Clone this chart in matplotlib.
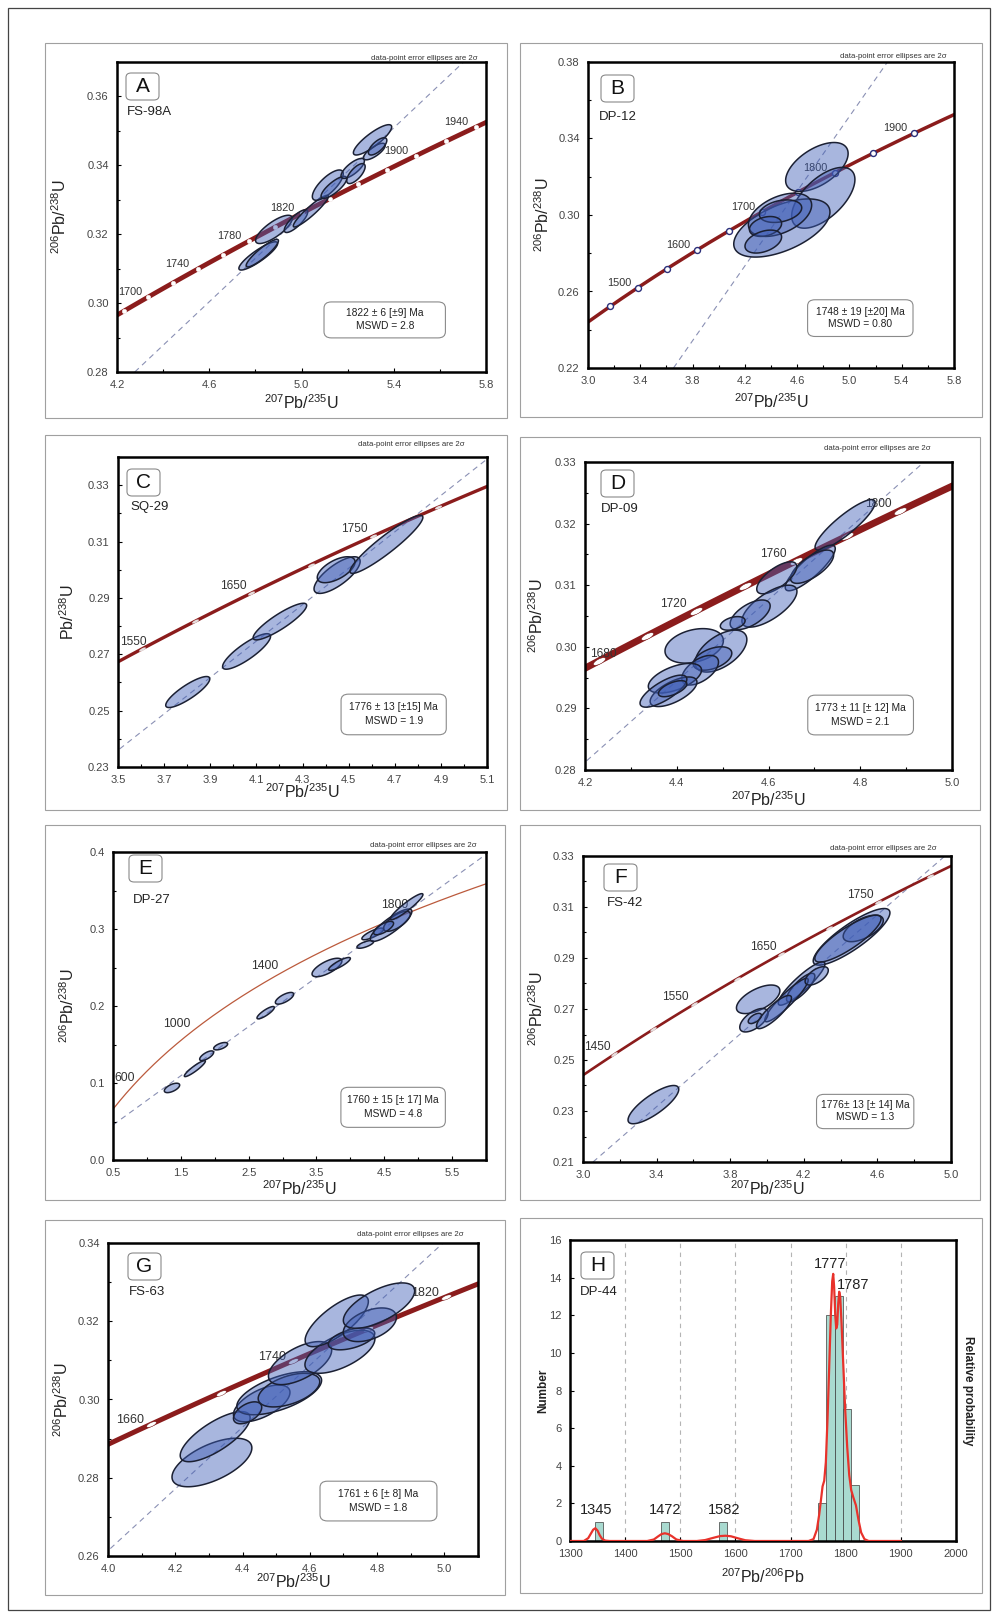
import numpy as np
import matplotlib
matplotlib.use('Agg')
import matplotlib.pyplot as plt
from matplotlib.patches import Polygon, FancyBboxPatch, Rectangle
from matplotlib.markers import MarkerStyle
from matplotlib.transforms import Affine2D

plt.rcParams['font.family'] = ['Liberation Sans', 'DejaVu Sans']
plt.rcParams['mathtext.fontset'] = 'custom'
plt.rcParams['mathtext.rm'] = 'Liberation Sans'
plt.rcParams['mathtext.it'] = 'Liberation Sans:italic'
plt.rcParams['mathtext.bf'] = 'Liberation Sans:bold'

# decay constants (1/yr) used for the concordia curve
L238 = 1.55125e-10
L235 = 9.8485e-10

# error ellipses: (207Pb/235U, 206Pb/238U, half extent x, half extent y, rho)
A_ell = [(4.8125, 0.3137, 0.084, 0.0041, 0.88), (4.83, 0.3145, 0.07, 0.0040, 0.90),
         (4.8805, 0.3214, 0.0796, 0.0041, 0.78), (4.976, 0.3238, 0.0507, 0.0033, 0.80),
         (5.0405, 0.3267, 0.076, 0.0046, 0.93), (5.114, 0.33425, 0.067, 0.0044, 0.75),
         (5.1405, 0.3336, 0.0557, 0.0032, 0.80), (5.222, 0.3391, 0.0507, 0.0029, 0.75),
         (5.236, 0.3376, 0.040, 0.0029, 0.70), (5.316, 0.3440, 0.047, 0.0024, 0.75),
         (5.308, 0.3474, 0.083, 0.0044, 0.85), (5.33, 0.3455, 0.040, 0.0025, 0.70)]
B_ell = [(4.751, 0.3251, 0.239, 0.0128, 0.55), (4.800, 0.3090, 0.242, 0.0159, 0.60),
         (4.483, 0.2932, 0.368, 0.0152, 0.55), (4.469, 0.3001, 0.242, 0.0113, 0.45),
         (4.473, 0.3020, 0.162, 0.0059, 0.30), (4.358, 0.2940, 0.123, 0.0052, 0.30),
         (4.341, 0.2861, 0.140, 0.0060, 0.40)]
C_ell = [(3.8025, 0.2566, 0.0955, 0.0055, 0.85), (4.0575, 0.2710, 0.104, 0.0063, 0.85),
         (4.202, 0.2816, 0.116, 0.0065, 0.88), (4.450, 0.2981, 0.100, 0.0065, 0.75),
         (4.446, 0.3000, 0.082, 0.0046, 0.60), (4.664, 0.3090, 0.158, 0.0103, 0.93)]
D_ell = [(4.767, 0.3198, 0.0655, 0.0041, 0.88), (4.691, 0.3128, 0.0545, 0.0037, 0.85),
         (4.695, 0.3130, 0.047, 0.0027, 0.70), (4.618, 0.3112, 0.0436, 0.0026, 0.70),
         (4.602, 0.3066, 0.060, 0.0034, 0.70), (4.560, 0.3052, 0.0436, 0.0024, 0.60),
         (4.522, 0.3038, 0.027, 0.0011, 0.40), (4.438, 0.30015, 0.0636, 0.0028, 0.30),
         (4.4964, 0.2993, 0.0564, 0.0034, 0.55), (4.478, 0.2981, 0.042, 0.0019, 0.45),
         (4.451, 0.2962, 0.040, 0.0024, 0.55), (4.396, 0.2949, 0.058, 0.0024, 0.55),
         (4.393, 0.2927, 0.051, 0.0024, 0.65), (4.371, 0.2928, 0.051, 0.0026, 0.75),
         (4.391, 0.2932, 0.031, 0.0013, 0.60)]
E_ell = [(1.37, 0.0936, 0.113, 0.0061, 0.60), (1.707, 0.1187, 0.155, 0.0104, 0.92),
         (1.881, 0.1354, 0.103, 0.0063, 0.70), (2.0875, 0.1478, 0.103, 0.0048, 0.60),
         (2.751, 0.1913, 0.128, 0.0080, 0.85), (3.029, 0.2100, 0.135, 0.0076, 0.70),
         (3.655, 0.2500, 0.220, 0.0120, 0.70), (3.840, 0.2546, 0.160, 0.0084, 0.85),
         (4.220, 0.2800, 0.123, 0.0050, 0.70), (4.330, 0.2936, 0.160, 0.0076, 0.80),
         (4.600, 0.3049, 0.307, 0.0210, 0.85), (4.687, 0.3100, 0.197, 0.0130, 0.70),
         (4.830, 0.3290, 0.240, 0.0169, 0.93), (4.490, 0.3012, 0.147, 0.0087, 0.70)]
F_ell = [(3.3826, 0.2325, 0.1378, 0.0075, 0.80), (4.4596, 0.2983, 0.2085, 0.0111, 0.85),
         (4.523, 0.3016, 0.109, 0.0052, 0.60), (4.440, 0.2976, 0.180, 0.0092, 0.85),
         (4.188, 0.2800, 0.127, 0.0085, 0.90), (4.183, 0.2784, 0.077, 0.0056, 0.80),
         (4.106, 0.2735, 0.118, 0.0085, 0.92), (3.952, 0.2738, 0.118, 0.0056, 0.60),
         (3.929, 0.2656, 0.077, 0.0046, 0.60), (4.038, 0.2688, 0.095, 0.0065, 0.85),
         (3.934, 0.2663, 0.036, 0.0020, 0.60), (4.270, 0.2830, 0.063, 0.0036, 0.60)]
G_ell = [(4.309, 0.2839, 0.1187, 0.0062, 0.60), (4.3186, 0.2905, 0.1039, 0.0064, 0.75),
         (4.457, 0.2990, 0.084, 0.0047, 0.60), (4.509, 0.3016, 0.126, 0.0055, 0.60),
         (4.538, 0.3024, 0.0915, 0.0043, 0.50), (4.571, 0.3093, 0.094, 0.0055, 0.60),
         (4.6895, 0.3122, 0.104, 0.0055, 0.60), (4.680, 0.3201, 0.094, 0.0066, 0.75),
         (4.724, 0.3155, 0.069, 0.0028, 0.50), (4.7785, 0.3191, 0.079, 0.0043, 0.45),
         (4.8057, 0.3240, 0.106, 0.0058, 0.65), (4.415, 0.2966, 0.042, 0.0028, 0.50)]

# concordia age ticks (Ma) and labelled ages
A_ticks = [1680, 1700, 1720, 1740, 1760, 1780, 1800, 1820, 1840, 1860, 1880, 1900, 1920, 1940, 1960]
A_labels = [1700, 1740, 1780, 1820, 1900, 1940]
B_ticks = [1450, 1500, 1550, 1600, 1650, 1700, 1750, 1800, 1850, 1900]
B_labels = [1500, 1600, 1700, 1800, 1900]
C_ticks = [1550, 1600, 1650, 1700, 1750, 1800]
C_labels = [1550, 1650, 1750]
D_ticks = [1680, 1700, 1720, 1740, 1760, 1780, 1800]
D_labels = [1680, 1720, 1760, 1800]
E_ticks = []
E_labels = [600, 1000, 1400, 1800]
F_ticks = [1450, 1500, 1550, 1600, 1650, 1700, 1750, 1800]
F_labels = [1450, 1550, 1650, 1750]
G_ticks = [1660, 1700, 1740, 1780, 1820]
G_labels = [1660, 1740, 1820]

# discordia end points (x list, y list)
A_disc = ([4.277, 5.703], [0.280, 0.370])
B_disc = ([3.654, 5.291], [0.220, 0.380])
C_disc = ([3.507, 5.093], [0.2364, 0.3388])
D_disc = ([4.2036, 4.9345], [0.2815, 0.3297])
E_disc = ([0.5, 6.0], [0.0455, 0.397])
F_disc = ([3.0544, 4.967], [0.210, 0.330])
G_disc = ([4.0069, 4.996], [0.2619, 0.340])

# age results
A_result = ['1822 \u00b1 6 [\u00b19] Ma', 'MSWD = 2.8']
B_result = ['1748 \u00b1 19 [\u00b120] Ma', 'MSWD = 0.80']
C_result = ['1776 \u00b1 13 [\u00b115] Ma', 'MSWD = 1.9']
D_result = ['1773 \u00b1 11 [\u00b1 12] Ma', 'MSWD = 2.1']
E_result = ['1760 \u00b1 15 [\u00b1 17] Ma', 'MSWD = 4.8']
F_result = ['1776\u00b1 13 [\u00b1 14] Ma', 'MSWD = 1.3']
G_result = ['1761 \u00b1 6 [\u00b1 8] Ma', 'MSWD = 1.8']

# panel H: histogram + probability curve
H_bin_left = [1345, 1465, 1570, 1750, 1765, 1780, 1795, 1810]
H_counts = [1, 1, 1, 2, 12, 13, 7, 3]
H_curve_age = [1300, 1325, 1333, 1338, 1342, 1346, 1350, 1354, 1358, 1364, 1372,
               1440, 1452, 1460, 1466, 1472, 1478, 1485, 1493, 1505,
               1530, 1545, 1560, 1572, 1582, 1592, 1605, 1618, 1635,
               1732.6, 1741.6, 1747.7, 1751.9, 1755.6, 1758, 1761, 1764, 1767, 1770, 1773,
               1775.5, 1777.3, 1779, 1781, 1782.8, 1784.6, 1786.4, 1788.2, 1790, 1792.4,
               1795.4, 1799, 1802.7, 1806.4, 1810, 1814, 1818.5, 1823.3, 1828, 1834, 1841.5, 1900]
H_curve_val = [0, 0, 0.15, 0.4, 0.6, 0.68, 0.55, 0.3, 0.12, 0.02, 0,
               0, 0.08, 0.25, 0.37, 0.41, 0.37, 0.25, 0.08, 0,
               0, 0.05, 0.17, 0.26, 0.28, 0.25, 0.14, 0.04, 0,
               0, 0.1, 0.6, 1.4, 2.3, 2.9, 3.2, 4.2, 6.5, 9.2, 12.0,
               13.8, 14.2, 13.5, 12.0, 11.3, 11.5, 12.6, 13.25, 13.0, 11.6,
               9.5, 7.0, 5.0, 3.5, 2.7, 2.3, 1.9, 1.1, 0.45, 0.1, 0, 0]
H_peaks = ['1345', '1472', '1582', '1777', '1787']
H_peak_pos = [(1348, 1.65), (1472, 1.65), (1579, 1.65), (1772, 14.7), (1814, 13.6)]

FW, FH = 999, 1617
fig = plt.figure(figsize=(FW / 100, FH / 100), dpi=100)

ELL_FC = (0.243, 0.365, 0.714, 0.45)
ELL_EC = '#1b2033'
TICK_C = '#444444'


def conc(t_ma):
    t = np.asarray(t_ma, float) * 1e6
    return np.exp(L235 * t) - 1, np.exp(L238 * t) - 1


def ellipse_pts(cx, cy, sx, sy, rho, n=120):
    th = np.linspace(0, 2 * np.pi, n)
    x = cx + sx * np.cos(th)
    y = cy + sy * (rho * np.cos(th) + np.sqrt(1 - rho ** 2) * np.sin(th))
    return np.column_stack([x, y])


def add_axes_px(l, t, r, b):
    return fig.add_axes([l / FW, 1 - b / FH, (r - l) / FW, (b - t) / FH])


def frame(l, t, r, b, ec='#a0a0a0', lw=0.8):
    fig.add_artist(Rectangle((l / FW, 1 - b / FH), (r - l) / FW, (b - t) / FH,
                             transform=fig.transFigure, fill=False, ec=ec, lw=lw))


def style_axes(ax, xt, xm, yt, ym, xfmt, yfmt):
    ax.set_xticks(xt)
    ax.set_xticks(xm, minor=True)
    ax.set_yticks(yt)
    ax.set_yticks(ym, minor=True)
    ax.set_xticklabels([xfmt % v for v in xt])
    ax.set_yticklabels([yfmt % v for v in yt])
    ax.tick_params(which='both', direction='in', top=False, right=False,
                   labelsize=8, labelcolor=TICK_C, width=0.8, pad=6)
    ax.tick_params(which='major', length=3)
    ax.tick_params(which='minor', length=2)
    for s in ax.spines.values():
        s.set_linewidth(1.8)


def px(ax, dx, dy):
    # offset in pixels from upper-left corner -> axes fraction
    return dx / ax.bbox.width, 1 - dy / ax.bbox.height


def decorate(ax, letter, name, lbox, nm, note_dx, note_dy, xl_dy, yl_dx, ylabel, xlabel):
    bx, by = px(ax, lbox[0], lbox[1] + 27)
    ax.add_patch(FancyBboxPatch((bx, by), 33 / ax.bbox.width, 27 / ax.bbox.height,
                                boxstyle='round,pad=0,rounding_size=0.014',
                                transform=ax.transAxes, fc='white', ec='#8a8a8a',
                                lw=0.8, zorder=6))
    cx, cy = px(ax, lbox[0] + 16.5, lbox[1] + 13.5)
    ax.text(cx, cy, letter, transform=ax.transAxes, ha='center', va='center',
            fontsize=15, color='#111111', zorder=7)
    nx, ny = px(ax, nm[0], nm[1])
    ax.text(nx, ny, name, transform=ax.transAxes, ha='left', va='center',
            fontsize=9.5, color='#222222', zorder=7)
    if note_dx is not None:
        tx, ty = px(ax, ax.bbox.width + note_dx, -note_dy)
        ax.text(tx, ty, 'data-point error ellipses are 2\u03c3', transform=ax.transAxes,
                ha='right', va='center', fontsize=5.6, color='#333333')
    ax.set_xlabel(xlabel, fontsize=11.5, color='#222222')
    ax.set_ylabel(ylabel, fontsize=11.5, color='#222222')
    ax.xaxis.label.set_va('center')
    ax.yaxis.label.set_va('center')
    ax.xaxis.set_label_coords(0.5, -xl_dy / ax.bbox.height)
    ax.yaxis.set_label_coords(yl_dx / ax.bbox.width, 0.5)


YL = r'$^{206}$Pb/$^{238}$U'
XL = r'$^{207}$Pb/$^{235}$U'

panels = [
    dict(letter='A', name='FS-98A', box=(45, 43, 507, 418), rect=(117, 62, 486, 372),
         xlim=(4.2, 5.8), ylim=(0.28, 0.37), xt=np.arange(4.2, 5.81, 0.4), xm=np.arange(4.2, 5.81, 0.2),
         yt=np.arange(0.28, 0.361, 0.02), ym=np.arange(0.28, 0.371, 0.01), xf='%.1f', yf='%.2f',
         ell=A_ell, ticks=A_ticks, labels=A_labels, disc=A_disc, res=A_result, rng=(1650, 1990),
         clw=3.4, ccol='#8b1c1c', mk='dot', lfs=7.8, loff=(-20, 5), lmin=1,
         resbox=(0.561, 0.110, 0.890, 0.226), lbox=(9, 11), nm=(10, 50), note=(-8, 4),
         xl=31, yl=-57, ylabel=YL),
    dict(letter='B', name='DP-12', box=(520, 43, 982, 417), rect=(588, 62, 954, 368),
         xlim=(3.0, 5.8), ylim=(0.22, 0.38), xt=np.arange(3.0, 5.81, 0.4), xm=np.arange(3.0, 5.81, 0.2),
         yt=np.arange(0.22, 0.381, 0.04), ym=np.arange(0.22, 0.381, 0.02), xf='%.1f', yf='%.2f',
         ell=B_ell, ticks=B_ticks, labels=B_labels, disc=B_disc, res=B_result, rng=(1350, 1990),
         clw=2.5, ccol='#8b1c1c', mk='circ', lfs=7.8, loff=(-19, 5), lmin=1,
         resbox=(0.600, 0.103, 0.888, 0.223), lbox=(13, 13), nm=(11, 55), note=(-7, 6),
         xl=34, yl=-45, ylabel=YL),
    dict(letter='C', name='SQ-29', box=(45, 435, 507, 810), rect=(118, 457, 487, 767),
         xlim=(3.5, 5.1), ylim=(0.23, 0.34), xt=np.arange(3.5, 5.11, 0.2), xm=np.arange(3.5, 5.11, 0.1),
         yt=np.arange(0.23, 0.331, 0.02), ym=np.arange(0.23, 0.341, 0.01), xf='%.1f', yf='%.2f',
         ell=C_ell, ticks=C_ticks, labels=C_labels, disc=C_disc, res=C_result, rng=(1450, 1900),
         clw=2.4, ccol='#8b1c1c', mk='dash', lfs=8.6, loff=(-18, 7), lmin=2,
         resbox=(0.6045, 0.104, 0.8896, 0.235), lbox=(9, 12), nm=(12, 50), note=(-22, 12),
         xl=25, yl=-50, ylabel=r'Pb/$^{238}$U'),
    dict(letter='D', name='DP-09', box=(520, 437, 980, 810), rect=(585, 462, 952, 770),
         xlim=(4.2, 5.0), ylim=(0.28, 0.33), xt=np.arange(4.2, 5.01, 0.2), xm=np.arange(4.2, 5.01, 0.1),
         yt=np.arange(0.28, 0.331, 0.01), ym=np.arange(0.28, 0.331, 0.005), xf='%.1f', yf='%.2f',
         ell=D_ell, ticks=D_ticks, labels=D_labels, disc=D_disc, res=D_result, rng=(1650, 1850),
         clw=5.0, ccol='#8b1c1c', mk='ell', lfs=8.6, loff=(-22, 7), lmin=5,
         resbox=(0.607, 0.114, 0.895, 0.243), lbox=(16, 8), nm=(16, 47), note=(-21, 13),
         xl=30, yl=-48, ylabel=YL),
    dict(letter='E', name='DP-27', box=(45, 825, 505, 1200), rect=(113, 852, 486, 1160),
         xlim=(0.5, 6.0), ylim=(0.0, 0.4), xt=np.arange(0.5, 5.51, 1.0), xm=np.arange(0.5, 6.01, 0.5),
         yt=np.arange(0.0, 0.41, 0.1), ym=np.arange(0.0, 0.41, 0.05), xf='%.1f', yf='%.1f',
         ell=E_ell, ticks=E_ticks, labels=E_labels, disc=E_disc, res=E_result, rng=(300, 2000),
         clw=0.9, ccol='#bb5a3c', mk=None, lfs=8.8, loff=(-16, 7), lmin=1,
         resbox=(0.611, 0.106, 0.891, 0.236), lbox=(16, 3), nm=(20, 48), note=(-9, 7),
         xl=29, yl=-45, ylabel=YL),
    dict(letter='F', name='FS-42', box=(520, 825, 980, 1200), rect=(583, 856, 951, 1162),
         xlim=(3.0, 5.0), ylim=(0.21, 0.33), xt=np.arange(3.0, 5.01, 0.4), xm=np.arange(3.0, 5.01, 0.2),
         yt=np.arange(0.21, 0.331, 0.02), ym=np.arange(0.21, 0.331, 0.01), xf='%.1f', yf='%.2f',
         ell=F_ell, ticks=F_ticks, labels=F_labels, disc=F_disc, res=F_result, rng=(1300, 1900),
         clw=1.9, ccol='#8b1c1c', mk='dash', lfs=8.6, loff=(-18, 7), lmin=1,
         resbox=(0.6346, 0.109, 0.899, 0.221), lbox=(21, 8), nm=(24, 47), note=(-14, 8),
         xl=27, yl=-46, ylabel=YL),
    dict(letter='G', name='FS-63', box=(45, 1220, 505, 1595), rect=(108, 1243, 478, 1556),
         xlim=(4.0, 5.1), ylim=(0.26, 0.34), xt=np.arange(4.0, 5.01, 0.2), xm=np.arange(4.0, 5.11, 0.1),
         yt=np.arange(0.26, 0.341, 0.02), ym=np.arange(0.26, 0.341, 0.01), xf='%.1f', yf='%.2f',
         ell=G_ell, ticks=G_ticks, labels=G_labels, disc=G_disc, res=G_result, rng=(1600, 1900),
         clw=3.6, ccol='#8b1c1c', mk='ell_g', lfs=9.0, loff=(-21, 4), lmin=1,
         resbox=(0.573, 0.112, 0.889, 0.239), lbox=(20, 10), nm=(21, 49), note=(-14, 9),
         xl=26, yl=-46, ylabel=YL),
]

for p in panels:
    frame(*p['box'])
    ax = add_axes_px(*p['rect'])
    ax.set_xlim(*p['xlim'])
    ax.set_ylim(*p['ylim'])
    style_axes(ax, p['xt'], p['xm'], p['yt'], p['ym'], p['xf'], p['yf'])

    # discordia
    ax.plot(p['disc'][0], p['disc'][1], color='#8a90b4', lw=0.8, ls=(0, (5, 4)), zorder=1.5)

    # concordia
    t = np.arange(p['rng'][0], p['rng'][1] + 1, 5)
    cxs, cys = conc(t)
    ax.plot(cxs, cys, color=p['ccol'], lw=p['clw'], solid_capstyle='butt', zorder=2)

    # age markers on concordia
    for a in p['ticks']:
        x, y = conc(a)
        p1 = ax.transData.transform(conc(a - 5))
        p2 = ax.transData.transform(conc(a + 5))
        ang = np.degrees(np.arctan2(p2[1] - p1[1], p2[0] - p1[0]))
        if p['mk'] == 'dot':
            ax.plot(x, y, 'o', ms=3.2, mfc='white', mec='#f2e8e8', mew=0.4, zorder=3)
        elif p['mk'] == 'circ':
            ax.plot(x, y, 'o', ms=4.3, mfc='white', mec='#2b2f7a', mew=1.0, zorder=3)
        elif p['mk'] == 'dash':
            m = MarkerStyle('o', transform=Affine2D().scale(1.6, 0.55).rotate_deg(ang))
            ax.plot(x, y, marker=m, ms=3.4, mfc='#e6dede', mec='none', zorder=3)
        elif p['mk'] == 'ell':
            m = MarkerStyle('o', transform=Affine2D().scale(2.3, 0.85).rotate_deg(ang))
            ax.plot(x, y, marker=m, ms=4.2, mfc='white', mec='#6a1010', mew=0.3, zorder=3)
        elif p['mk'] == 'ell_g':
            m = MarkerStyle('o', transform=Affine2D().scale(1.9, 0.7).rotate_deg(ang))
            ax.plot(x, y, marker=m, ms=4.0, mfc='white', mec='#6a1010', mew=0.3, zorder=3)

    # age labels, kept inside the left frame
    fs_px = p['lfs'] * 100 / 72
    for a in p['labels']:
        lx, ly = ax.transData.transform(conc(a))
        lx += p['loff'][0]
        ly += p['loff'][1]
        hw = 0.556 * len(str(a)) * fs_px / 2
        if lx - hw < ax.bbox.x0 + p['lmin']:
            lx = ax.bbox.x0 + p['lmin'] + hw
        dx, dy = ax.transData.inverted().transform((lx, ly))
        ax.text(dx, dy, str(a), ha='center', va='center', fontsize=p['lfs'],
                color='#333333', zorder=3)

    # error ellipses
    for (ex, ey, sx, sy, r) in p['ell']:
        ax.add_patch(Polygon(ellipse_pts(ex, ey, sx, sy, r), closed=True,
                             fc=ELL_FC, ec=ELL_EC, lw=1.1, zorder=4))

    # result box
    x0, y0, x1, y1 = p['resbox']
    ax.add_patch(FancyBboxPatch((x0, y0), x1 - x0, y1 - y0,
                                boxstyle='round,pad=0,rounding_size=0.02',
                                transform=ax.transAxes, fc='white', ec='#8a8a8a',
                                lw=0.8, zorder=6))
    xc = (x0 + x1) / 2
    ax.text(xc, y0 + 0.68 * (y1 - y0), p['res'][0], transform=ax.transAxes,
            ha='center', va='center', fontsize=7.4, color='#222222', zorder=7)
    ax.text(xc, y0 + 0.33 * (y1 - y0), p['res'][1], transform=ax.transAxes,
            ha='center', va='center', fontsize=7.4, color='#222222', zorder=7)

    decorate(ax, p['letter'], p['name'], p['lbox'], p['nm'], p['note'][0], p['note'][1],
             p['xl'], p['yl'], p['ylabel'], XL)

# ---- panel H
frame(520, 1218, 982, 1593)
axh = add_axes_px(570, 1240, 956, 1541)
axh.set_xlim(1300, 2000)
axh.set_ylim(0, 16)
style_axes(axh, np.arange(1300, 2001, 100), np.arange(1300, 2001, 50),
           np.arange(0, 17, 2), np.arange(0, 17, 1), '%d', '%d')
axh.tick_params(which='minor', length=0)
for g in range(1400, 2000, 100):
    axh.axvline(g, color='#b4b4b4', lw=0.8, ls=(0, (4, 4)), zorder=1)
axh.bar(H_bin_left, H_counts, width=15, align='edge', color='#a9dad0',
        edgecolor='#3c3c3c', linewidth=0.5, zorder=2)
axh.plot(H_curve_age, H_curve_val, color='#e8322b', lw=1.6, zorder=3)
for lab, (x, y) in zip(H_peaks, H_peak_pos):
    axh.text(x, y, lab, ha='center', va='center', fontsize=10.5, color='#222222', zorder=4)
decorate(axh, 'H', 'DP-44', (11, 12), (10, 52), None, None, 36, -27,
         'Number', r'$^{207}$Pb/$^{206}$Pb')
axh.yaxis.label.set_fontsize(8.5)
axh.yaxis.label.set_fontweight('bold')
axh.text(1 + 12 / axh.bbox.width, 0.5, 'Relative probability', transform=axh.transAxes,
         rotation=-90, ha='center', va='center', fontsize=8.5, fontweight='bold',
         color='#222222')

# outer frame
frame(8, 8, 990, 1610, ec='#444444', lw=0.9)

fig.savefig('out.png', dpi=100, facecolor='white')
